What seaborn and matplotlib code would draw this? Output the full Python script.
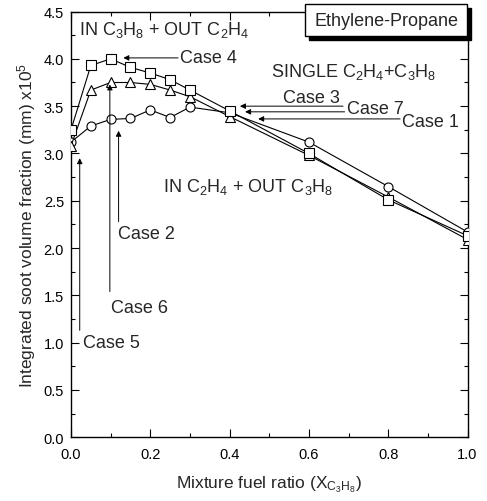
import matplotlib
matplotlib.use("Agg")
import matplotlib.pyplot as plt
from matplotlib.patches import Rectangle
from matplotlib.ticker import MultipleLocator
import numpy as np
import pandas as pd
import seaborn as sns

# Mixture fuel ratio (propane mole fraction in the fuel)
x_ratio = [0.0, 0.05, 0.1, 0.15, 0.2, 0.25, 0.3, 0.4, 0.6, 0.8, 1.0]

# Integrated soot volume fraction (mm) x10^5
in_c3h8_out_c2h4 = [3.25, 3.93, 4.00, 3.91, 3.85, 3.78, 3.67, 3.45, 3.00, 2.51, 2.13]
single_mixture = [3.08, 3.67, 3.75, 3.75, 3.73, 3.67, 3.60, 3.39, 2.98, 2.54, 2.09]
in_c2h4_out_c3h8 = [3.12, 3.29, 3.36, 3.37, 3.46, 3.38, 3.49, 3.43, 3.12, 2.65, 2.17]

x_ticks = [0.0, 0.2, 0.4, 0.6, 0.8, 1.0]
y_ticks = [0.0, 0.5, 1.0, 1.5, 2.0, 2.5, 3.0, 3.5, 4.0, 4.5]

sns.set_theme(style="ticks")
plt.rcParams["font.family"] = ["Liberation Sans", "DejaVu Sans"]
plt.rcParams["mathtext.fontset"] = "custom"
plt.rcParams["mathtext.rm"] = "Liberation Sans"
plt.rcParams["mathtext.it"] = "Liberation Sans"
plt.rcParams["mathtext.default"] = "regular"

fig = plt.figure(figsize=(4.87, 5.02), dpi=100)
ax = fig.add_axes([0.1458, 0.127, 0.8142, 0.848])

series = [
    (in_c2h4_out_c3h8, "o"),
    (single_mixture, "^"),
    (in_c3h8_out_c2h4, "s"),
]
for values, marker in series:
    df = pd.DataFrame({"x": x_ratio, "y": values})
    sns.lineplot(data=df, x="x", y="y", ax=ax, color="black", lw=0.8,
                 marker=marker, markersize=6.5, markerfacecolor="white",
                 markeredgecolor="black", markeredgewidth=0.8,
                 legend=False, zorder=3)

ax.set_xlim(0, 1.0)
ax.set_ylim(0, 4.5)
ax.set_xticks(x_ticks)
ax.set_yticks(y_ticks)
ax.set_xticklabels([f"{v:.1f}" for v in x_ticks])
ax.set_yticklabels([f"{v:.1f}" for v in y_ticks])
ax.xaxis.set_minor_locator(MultipleLocator(0.1))
ax.yaxis.set_minor_locator(MultipleLocator(0.25))
ax.tick_params(which="both", direction="in", top=True, right=True,
               colors="black", labelsize=10.5, width=0.8)
ax.tick_params(which="major", length=6)
ax.tick_params(which="minor", length=3)
ax.tick_params(axis="x", pad=7)
ax.tick_params(axis="y", pad=5)
for sp in ax.spines.values():
    sp.set_color("black")
    sp.set_linewidth(1.0)

ax.set_xlabel(r"Mixture fuel ratio (X$_{C_3H_8}$)", fontsize=12.5, labelpad=9)
ax.set_ylabel(r"Integrated soot volume fraction (mm) x10$^5$", fontsize=12.5, labelpad=4)

fs = 13
ax.text(0.02, 4.32, r"IN C$_3$H$_8$ + OUT C$_2$H$_4$", fontsize=fs, va="center", ha="left")
ax.text(0.505, 3.87, r"SINGLE C$_2$H$_4$+C$_3$H$_8$", fontsize=fs, va="center", ha="left")
ax.text(0.232, 2.66, r"IN C$_2$H$_4$ + OUT C$_3$H$_8$", fontsize=fs, va="center", ha="left")

arrow = dict(arrowstyle="-|>", lw=0.7, color="black", mutation_scale=8,
             shrinkA=0, shrinkB=0)

def pointer(label, head, tail, text_xy, ha="left", va="center"):
    ax.annotate("", xy=head, xytext=tail, arrowprops=arrow, zorder=4)
    ax.text(text_xy[0], text_xy[1], label, fontsize=fs, ha=ha, va=va)

pointer("Case 4", (0.132, 4.01), (0.27, 4.01), (0.275, 4.01))
pointer("Case 6", (0.098, 3.73), (0.098, 1.54), (0.1, 1.37))
pointer("Case 2", (0.12, 3.24), (0.12, 2.28), (0.118, 2.15))
pointer("Case 5", (0.022, 2.95), (0.022, 1.13), (0.03, 1.0))
pointer("Case 3", (0.426, 3.50), (0.686, 3.50), (0.535, 3.50), va="bottom")
pointer("Case 7", (0.439, 3.44), (0.69, 3.44), (0.697, 3.47))
pointer("Case 1", (0.472, 3.365), (0.83, 3.365), (0.835, 3.335))

# Title box with drop shadow
bx0, by0, bw, bh = 305 / 487, 1 - 37 / 502, 162 / 487, 32 / 502
off_x, off_y = 4 / 487, 4 / 502
fig.patches.append(Rectangle((bx0 + off_x, by0 - off_y), bw, bh, transform=fig.transFigure,
                             facecolor="black", edgecolor="black", zorder=5))
fig.patches.append(Rectangle((bx0, by0), bw, bh, transform=fig.transFigure,
                             facecolor="white", edgecolor="black", lw=1.0, zorder=6))
fig.text(bx0 + bw / 2, by0 + bh / 2, "Ethylene-Propane", fontsize=fs,
         ha="center", va="center", zorder=7)

fig.savefig("out.png", dpi=100, facecolor="white")
